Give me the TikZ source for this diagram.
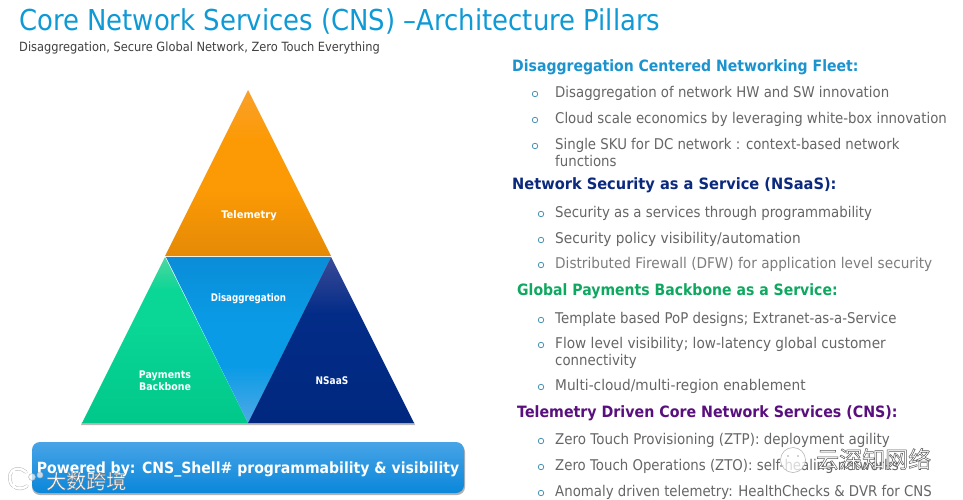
\documentclass[tikz,border=0pt]{standalone}
\usepackage{fontspec}
\usepackage{graphicx}
\setmainfont{DejaVu Sans}[FakeStretch=0.9]
\newfontfamily\cjk{Noto Sans CJK SC}
\definecolor{bodygray}{HTML}{666666}
\definecolor{lightgray}{HTML}{7D7D7D}
\definecolor{titleblue}{HTML}{0F9AD6}
\definecolor{headblue}{HTML}{1B93CF}
\definecolor{headnavy}{HTML}{0B2A7E}
\definecolor{headgreen}{HTML}{0FA860}
\definecolor{headpurple}{HTML}{5A0F7E}
\definecolor{bullet}{HTML}{4A93B5}
\definecolor{orangeA}{HTML}{F9A02B}
\definecolor{orangeB}{HTML}{FC9A05}
\definecolor{orangeC}{HTML}{E58A06}
\definecolor{greenA}{HTML}{4FD7A0}
\definecolor{greenB}{HTML}{0AD696}
\definecolor{greenC}{HTML}{00C88A}
\definecolor{blueA}{HTML}{0A8DD8}
\definecolor{blueB}{HTML}{0A9BE6}
\definecolor{blueC}{HTML}{4FA9E6}
\definecolor{navyA}{HTML}{3A4A96}
\definecolor{navyB}{HTML}{032C88}
\definecolor{navyC}{HTML}{00287F}
\definecolor{banA}{HTML}{48A4E6}
\definecolor{banB}{HTML}{0A87DA}
\pgfdeclareverticalshading{orangeS}{100bp}{color(0bp)=(orangeC); color(25bp)=(orangeC); color(45bp)=(orangeB); color(60bp)=(orangeB); color(75bp)=(orangeA); color(100bp)=(orangeA)}
\pgfdeclareverticalshading{greenS}{100bp}{color(0bp)=(greenC); color(25bp)=(greenC); color(55bp)=(greenB); color(65bp)=(greenB); color(75bp)=(greenA); color(100bp)=(greenA)}
\pgfdeclareverticalshading{blueS}{100bp}{color(0bp)=(blueC); color(25bp)=(blueC); color(42bp)=(blueB); color(55bp)=(blueB); color(75bp)=(blueA); color(100bp)=(blueA)}
\pgfdeclareverticalshading{navyS}{100bp}{color(0bp)=(navyC); color(25bp)=(navyC); color(58bp)=(navyB); color(75bp)=(navyA); color(100bp)=(navyA)}
\tikzset{
  x=1pt,y=-1pt,
  bodytext/.style={anchor=west,inner sep=0pt,text=bodygray,font=\fontsize{14.8}{17}\selectfont,align=left},
  headtext/.style={anchor=west,inner sep=0pt,font=\fontsize{15.6}{18}\selectfont\bfseries},
  bul/.style={circle,draw=bullet,line width=.8pt,minimum size=5.5pt,inner sep=0pt},
  trilabel/.style={inner sep=0pt,text=white,align=center,font=\fontsize{10.5}{12}\selectfont\bfseries},
  wmA/.style={inner sep=0pt,font=\cjk\fontsize{20}{22}\selectfont},
  wmB/.style={inner sep=0pt,font=\cjk\fontsize{23}{25}\selectfont},
}
\newcommand{\sx}[2]{\scalebox{#1}[1]{#2}}
\newcommand{\rowitem}[4]{\node[bul] (b#1) at (#2,#3+2) {};\node[bodytext] (t#1) at (555,#3+1.2) {#4};}
\newcommand{\outlined}[3]{\special{pdf:code 2 Tr #1 w #2 G 1 g}#3\special{pdf:code 0 Tr}}
\begin{document}
\begin{tikzpicture}
\useasboundingbox (0,0) rectangle (963,500);
\fill[white] (0,0) rectangle (963,500);
\node[anchor=west,inner sep=0pt,text=titleblue,font=\fontsize{28.8}{32}\selectfont] (title) at (19,21) {Core Network Services (CNS) –Architecture Pillars};
\node[anchor=west,inner sep=0pt,text=black!75,font=\fontsize{12.7}{14}\selectfont] (sub) at (19,48) {Disaggregation, Secure Global Network, Zero Touch Everything};
% shadow
\fill[black!28] (82,422) -- (414,422) -- (415,425) -- (81,425) -- cycle;
% triangles
\shade[shading=orangeS] (248,90) -- (331,256) -- (165,256) -- cycle;
\shade[shading=greenS] (165,257) -- (248,423) -- (82,423) -- cycle;
\shade[shading=blueS] (166,257) -- (331,257) -- (248,423) -- cycle;
\shade[shading=navyS] (331,257) -- (414,423) -- (248,423) -- cycle;
\node[trilabel] (tel) at (249,215.5) {\sx{1.05}{Telemetry}};
\node[trilabel] (dis) at (248.5,299) {\sx{0.92}{Disaggregation}};
\node[trilabel] (pay) at (165,381) {Payments\\Backbone};
\node[trilabel] (nsa) at (332,381) {\sx{0.95}{NSaaS}};
% banner
\fill[black!30,rounded corners=8pt] (32,444) rectangle (465,495);
\shade[rounded corners=8pt,top color=banA,bottom color=banB] (32,442) rectangle (464,493);
\node[anchor=center,inner sep=0pt,text=white,font=\fontsize{15.4}{18}\selectfont\bfseries] (pow) at (248,469) {\sx{1.014}{Powered by: CNS\_Shell\# programmability \& visibility}};
% right column
\node[headtext,text=headblue] (h1) at (512,67.2) {Disaggregation Centered Networking Fleet:};
\rowitem{1}{535}{92}{Disaggregation of network HW and SW innovation}
\rowitem{2}{535}{118}{Cloud scale economics by leveraging white-box innovation}
\rowitem{3}{535}{144}{Single SKU for DC network : context-based network}
\node[bodytext] (t3b) at (555,161.2) {functions};
\node[headtext,text=headnavy] (h2) at (512,185.2) {\sx{1.04}{Network Security as a Service (NSaaS):}};
\rowitem{4}{541}{212}{Security as a services through programmability}
\rowitem{5}{541}{238}{\sx{1.03}{Security policy visibility/automation}}
\rowitem{6}{541}{263}{\textcolor{lightgray}{\sx{1.025}{Distributed Firewall (DFW) for application level security}}}
\node[headtext,text=headgreen] (h3) at (517,291.2) {Global Payments Backbone as a Service:};
\rowitem{7}{541}{318}{Template based PoP designs; Extranet-as-a-Service}
\rowitem{8}{541}{343}{\sx{1.025}{Flow level visibility; low-latency global customer}}
\node[bodytext] (t8b) at (555,361.2) {connectivity};
\rowitem{9}{541}{385}{\sx{1.03}{Multi-cloud/multi-region enablement}}
\node[headtext,text=headpurple] (h4) at (517,413.2) {\sx{1.013}{Telemetry Driven Core Network Services (CNS):}};
\rowitem{10}{541}{439}{\sx{1.01}{Zero Touch Provisioning (ZTP): deployment agility}}
\rowitem{11}{541}{465}{Zero Touch Operations (ZTO): self-healing networks}
\rowitem{12}{541}{491}{Anomaly driven telemetry: HealthChecks \& DVR for CNS}
% watermarks
\draw[draw=gray!55,double=white,double distance=2.4pt,line width=.5pt,line cap=round] (26,472) .. controls (16,464) and (8,472) .. (10,480) .. controls (11,488) and (20,491) .. (27,486);
\draw[draw=gray!55,double=white,double distance=1.6pt,line width=.4pt] (14,470) -- (14,488);
\draw[gray!60,fill=white,fill opacity=.7,line width=.5pt] (32,477) circle (3.4);
\draw[gray!60,fill=white,fill opacity=.7,line width=.5pt] (40,475) circle (3);
\node[wmA,anchor=west] (wm1) at (46,481) {\outlined{0.35}{0.5}{大数跨境}};
\draw[gray!65,fill=white,fill opacity=.75,line width=.5pt] (793,460) circle (12.5);
\fill[gray!70] (788,456) circle (.8);
\fill[gray!70] (798,456) circle (.8);
\node[wmB,anchor=west] (wm2) at (816,459) {\outlined{0.5}{0.35}{云深知网络}};
\end{tikzpicture}
\end{document}
